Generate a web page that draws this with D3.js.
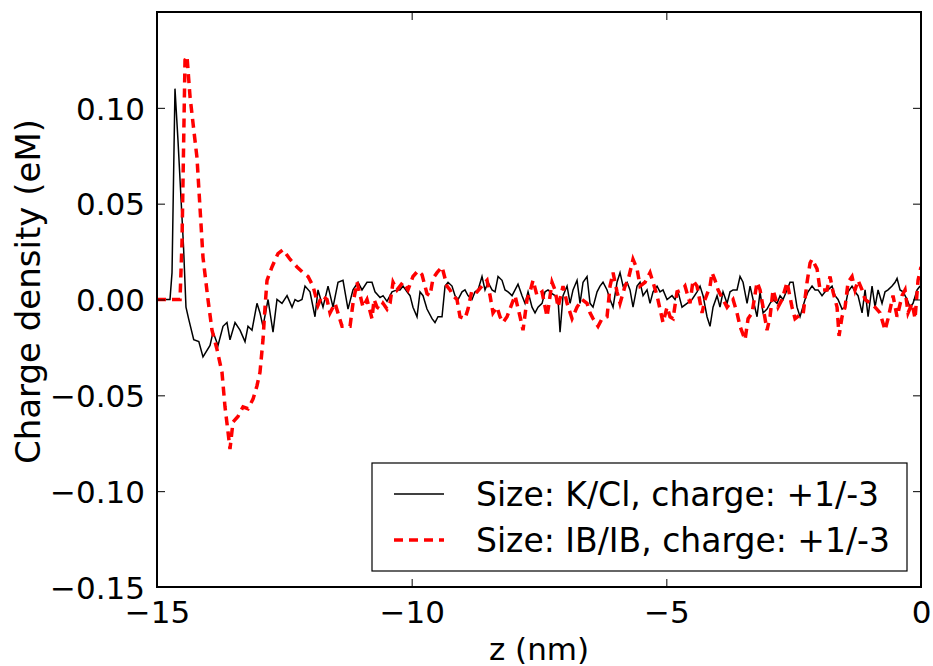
<!DOCTYPE html>
<html>
<head>
<meta charset="utf-8">
<script src="https://cdn.jsdelivr.net/npm/d3@7"></script>
<style>
  body { margin: 0; background: #fff; }
  svg text { font-family: "DejaVu Sans", sans-serif; fill: #000; }
</style>
</head>
<body>
<svg width="933" height="666"></svg>
<script>
// values
var kclZ = [-15.0, -14.745, -14.705, -14.647, -14.588, -14.537, -14.48, -14.431, -14.38, -14.279, -14.179, -14.097,
  -13.959, -13.9, -13.802, -13.704, -13.626, -13.567, -13.468, -13.37, -13.272, -13.213, -13.135, -13.037, -12.978,
  -12.919, -12.82, -12.722, -12.644, -12.546, -12.447, -12.349, -12.29, -12.231, -12.153, -12.094, -11.996, -11.898,
  -11.839, -11.741, -11.642, -11.544, -11.446, -11.348, -11.25, -11.152, -11.053, -10.975, -10.877, -10.779, -10.72,
  -10.621, -10.562, -10.484, -10.386, -10.288, -10.229, -10.17, -10.091, -10.032, -9.974, -9.895, -9.836, -9.777,
  -9.699, -9.6, -9.542, -9.483, -9.404, -9.345, -9.286, -9.208, -9.149, -9.09, -9.011, -8.953, -8.894, -8.815, -8.756,
  -8.697, -8.619, -8.56, -8.501, -8.422, -8.363, -8.304, -8.226, -8.167, -8.108, -8.029, -7.97, -7.912, -7.833, -7.774,
  -7.715, -7.637, -7.578, -7.519, -7.44, -7.381, -7.323, -7.244, -7.185, -7.126, -7.087, -7.028, -6.949, -6.89, -6.832,
  -6.753, -6.694, -6.635, -6.557, -6.498, -6.439, -6.36, -6.302, -6.243, -6.164, -6.105, -6.046, -5.968, -5.909, -5.85,
  -5.771, -5.713, -5.654, -5.575, -5.516, -5.457, -5.379, -5.32, -5.261, -5.182, -5.124, -5.065, -4.986, -4.888, -4.829,
  -4.77, -4.692, -4.593, -4.495, -4.397, -4.338, -4.279, -4.201, -4.142, -4.083, -4.004, -3.946, -3.887, -3.808, -3.749,
  -3.69, -3.612, -3.553, -3.494, -3.415, -3.356, -3.297, -3.219, -3.16, -3.101, -3.023, -2.964, -2.905, -2.826, -2.767,
  -2.709, -2.63, -2.571, -2.512, -2.434, -2.375, -2.277, -2.218, -2.139, -2.08, -2.021, -1.943, -1.884, -1.825, -1.746,
  -1.687, -1.629, -1.55, -1.491, -1.432, -1.354, -1.295, -1.236, -1.157, -1.098, -1.039, -0.961, -0.902, -0.843, -0.765,
  -0.706, -0.647, -0.568, -0.509, -0.47, -0.411, -0.352, -0.273, -0.215, -0.156, -0.077, -0.018];
var kclCharge = [0, 0, 0.014, 0.110, 0.083, 0.057, 0.028, -0.004, -0.010, -0.021, -0.022, -0.030,
  -0.024, -0.017, -0.024, -0.014, -0.012, -0.021, -0.012, -0.016, -0.022, -0.014, -0.016, -0.002, -0.007,
  -0.014, 0.0, -0.017, 0.0, -0.002, 0.002, -0.004, 0.0, -0.001, 0.0, 0.007, 0.004, -0.009,
  0.005, -0.004, 0.007, -0.004, 0.009, 0.010, -0.005, 0.005, 0.009, 0.005, 0.009, 0.009, 0.004,
  0.001, 0.002, -0.001, 0.004, 0.005, 0.005, 0.007, 0.004, 0.002, -0.004, -0.009, 0.004, 0.002,
  -0.005, -0.010, -0.012, -0.009, -0.009, 0.007, 0.009, 0.007, 0.002, 0.0, 0.004, 0.005, 0.002, 0.0, 0.004,
  0.005, 0.012, 0.005, 0.009, 0.005, 0.004, 0.012, 0.010, 0.005, 0.004, 0.002, 0.005, 0.008, 0.002, -0.002,
  0.004, -0.004, -0.007, -0.004, -0.002, 0.004, 0.005, 0.003, 0.002, 0.0, -0.017, 0.002, 0.007, -0.002, 0.005,
  0.010, -0.002, 0.009, 0.012, -0.002, -0.004, 0.004, 0.007, 0.009, 0.005, 0.0, -0.004, 0.009, 0.014, 0.007,
  0.009, 0.005, -0.004, 0.007, 0.009, 0.002, 0.005, -0.002, 0.004, 0.007, 0.004, 0.005, 0.0, 0.002, 0.0,
  0.004, -0.004, -0.002, 0.0, 0.004, 0.007, 0.002, -0.009, -0.014, -0.004, 0.002, -0.004, 0.004, -0.002, 0.004,
  0.005, 0.005, 0.012, 0.009, -0.002, 0.007, 0.0, -0.009, 0.004, -0.007, -0.005, -0.002, 0.0, -0.002, 0.002,
  0.0, 0.005, 0.009, 0.009, -0.004, -0.009, 0.0, 0.004, 0.007, 0.005, 0.005, 0.002, 0.004, 0.005, 0.007,
  0.002, 0.0, -0.005, -0.004, 0.004, 0.007, 0.004, 0.002, -0.007, 0.005, -0.009, 0.007, -0.004, 0.005, -0.002,
  0.004, 0.005, 0.007, 0.009, 0.011, 0.005, 0.004, 0.0, -0.004, -0.002, 0.005, 0.007];

var ibZ = [-15.0, -14.548, -14.509, -14.45, -14.411, -14.352, -14.293, -14.215, -14.156, -14.097, -13.999, -13.92,
  -13.822, -13.724, -13.665, -13.606, -13.567, -13.508, -13.41, -13.311, -13.213, -13.115, -13.037, -12.978, -12.919,
  -12.879, -12.84, -12.742, -12.624, -12.526, -12.389, -12.251, -12.133, -12.035, -11.937, -11.839, -11.76, -11.662,
  -11.603, -11.505, -11.367, -11.25, -11.21, -11.152, -11.073, -10.955, -10.877, -10.779, -10.739, -10.68, -10.621,
  -10.562, -10.484, -10.425, -10.366, -10.288, -10.229, -10.17, -10.072, -9.974, -9.875, -9.797, -9.699, -9.64, -9.581,
  -9.502, -9.404, -9.306, -9.247, -9.188, -9.11, -9.051, -8.953, -8.894, -8.815, -8.717, -8.619, -8.52, -8.461, -8.403,
  -8.324, -8.265, -8.206, -8.128, -8.029, -7.97, -7.872, -7.814, -7.735, -7.676, -7.617, -7.539, -7.44, -7.342, -7.244,
  -7.185, -7.126, -7.028, -6.949, -6.851, -6.753, -6.655, -6.557, -6.498, -6.439, -6.341, -6.262, -6.164, -6.105,
  -6.046, -5.968, -5.909, -5.811, -5.752, -5.654, -5.575, -5.516, -5.418, -5.32, -5.261, -5.182, -5.124, -5.065,
  -4.986, -4.927, -4.868, -4.79, -4.692, -4.633, -4.535, -4.476, -4.397, -4.299, -4.24, -4.142, -4.103, -4.043, -3.985,
  -3.887, -3.808, -3.749, -3.69, -3.612, -3.553, -3.454, -3.395, -3.317, -3.219, -3.16, -3.101, -3.023, -2.964, -2.905,
  -2.807, -2.728, -2.63, -2.532, -2.473, -2.375, -2.316, -2.237, -2.178, -2.139, -2.041, -1.982, -1.845, -1.786, -1.727,
  -1.648, -1.609, -1.55, -1.491, -1.432, -1.354, -1.295, -1.236, -1.157, -1.098, -1.0, -0.902, -0.804, -0.706, -0.647,
  -0.549, -0.47, -0.372, -0.313, -0.254, -0.175, -0.117, -0.058, 0.0];
var ibCharge = [0, 0, 0.030, 0.125, 0.127, 0.106, 0.092, 0.074, 0.048, 0.022, 0.0, -0.016,
  -0.026, -0.038, -0.056, -0.069, -0.078, -0.064, -0.061, -0.056, -0.057, -0.052, -0.045, -0.038, -0.021,
  -0.004, 0.010, 0.017, 0.024, 0.026, 0.021, 0.017, 0.014, 0.012, 0.007, -0.003, 0.002, 0.0,
  -0.007, -0.002, -0.014, -0.014, -0.014, -0.002, 0.009, -0.004, 0.0, -0.010, 0.0, -0.004, -0.005,
  -0.002, -0.005, -0.002, 0.009, 0.005, 0.007, 0.009, 0.005, 0.012, 0.015, 0.013, 0.003, 0.002, 0.011,
  0.014, 0.017, 0.007, 0.005, 0.002, 0.0, -0.009, -0.010, -0.005, 0.005, 0.004, 0.007, 0.010, 0.002, -0.007,
  -0.004, -0.009, -0.012, -0.009, -0.002, 0.002, -0.009, -0.016, 0.0, 0.004, 0.010, 0.002, 0.004, -0.009, 0.009,
  0.005, -0.004, 0.007, -0.002, -0.010, -0.004, 0.0, -0.002, -0.007, -0.010, -0.014, -0.010, -0.009, 0.007,
  0.014, 0.004, -0.002, 0.007, 0.010, 0.021, 0.016, 0.007, 0.009, 0.014, 0.009, 0.002, -0.005, -0.012,
  -0.004, -0.009, -0.010, 0.004, 0.005, 0.007, -0.002, 0.010, 0.007, -0.007, 0.0, 0.007, 0.014, 0.010, 0.005,
  0.0, -0.004, -0.002, 0.0, -0.007, -0.014, -0.021, -0.010, -0.007, 0.009, 0.005, -0.004, -0.016, -0.009, 0.005,
  -0.004, 0.0, 0.009, -0.004, -0.010, -0.008, -0.008, 0.009, 0.019, 0.021, 0.016, 0.005, 0.005, 0.012, 0.004,
  -0.004, -0.019, -0.009, -0.004, 0.009, 0.012, 0.005, 0.010, 0.005, 0.0, -0.002, -0.004, -0.007, -0.016, -0.010,
  0.002, -0.009, 0.002, 0.005, -0.007, -0.002, -0.010, 0.010, 0.017];

var xTicks = [-15, -10, -5, 0];
var yTicks = [-0.15, -0.10, -0.05, 0.00, 0.05, 0.10];
var seriesNames = ["Size: K/Cl, charge: +1/-3", "Size: IB/IB, charge: +1/-3"];

var margin = { top: 12, right: 12, bottom: 79, left: 157 };
var width = 933 - margin.left - margin.right;
var height = 666 - margin.top - margin.bottom;

var svg = d3.select('svg');
var g = svg.append('g').attr('transform', 'translate(' + margin.left + ',' + margin.top + ')');

var x = d3.scaleLinear().domain([-15, 0]).range([0, width]);
var y = d3.scaleLinear().domain([-0.15, 0.15]).range([height, 0]);

g.append('clipPath').attr('id', 'plotclip')
  .append('rect').attr('width', width).attr('height', height);

var toPoints = function(zs, vs) {
  return zs.map(function(z, i) { return [z, vs[i]]; });
};

var line = d3.line()
  .x(function(d) { return x(d[0]); })
  .y(function(d) { return y(d[1]); });

var plot = g.append('g').attr('clip-path', 'url(#plotclip)');

plot.append('path')
  .datum(toPoints(kclZ, kclCharge))
  .attr('d', line)
  .attr('fill', 'none')
  .attr('stroke', '#000')
  .attr('stroke-width', 1.5);

plot.append('path')
  .datum(toPoints(ibZ, ibCharge))
  .attr('d', line)
  .attr('fill', 'none')
  .attr('stroke', '#ff0000')
  .attr('stroke-width', 3.5)
  .attr('stroke-dasharray', '9,6');

// axes, matplotlib classic style: inward ticks on all four sides
var fontSize = 31;
var xAxis = d3.axisBottom(x).tickValues(xTicks).tickSize(-8).tickPadding(14)
  .tickFormat(d3.format('d'));
var yAxis = d3.axisLeft(y).tickValues(yTicks).tickSize(-8).tickPadding(12)
  .tickFormat(d3.format('.2f'));

var gx = g.append('g').attr('transform', 'translate(0,' + height + ')').call(xAxis);
var gy = g.append('g').call(yAxis);
g.append('g').call(d3.axisTop(x).tickValues(xTicks).tickSize(-8).tickFormat(''));
g.append('g').attr('transform', 'translate(' + width + ',0)')
  .call(d3.axisRight(y).tickValues(yTicks).tickSize(-8).tickFormat(''));

g.selectAll('.domain').remove();
g.selectAll('.tick line').attr('stroke', '#000').attr('stroke-width', 1);
gx.selectAll('.tick text').attr('font-size', fontSize).attr('dy', '0.71em');
gy.selectAll('.tick text').attr('font-size', fontSize).attr('dy', '0.36em');
g.selectAll('.tick text').attr('font-family', '"DejaVu Sans", sans-serif').attr('fill', '#000');

g.append('rect')
  .attr('width', width).attr('height', height)
  .attr('fill', 'none').attr('stroke', '#000').attr('stroke-width', 2);

svg.append('text')
  .attr('x', margin.left + width / 2).attr('y', 660)
  .attr('text-anchor', 'middle').attr('font-size', fontSize)
  .text('z (nm)');

svg.append('text')
  .attr('transform', 'translate(40,' + (margin.top + height / 2 - 8) + ') rotate(-90)')
  .attr('text-anchor', 'middle').attr('font-size', 34)
  .text('Charge density (eM)');

// legend
var legend = g.append('g').attr('transform', 'translate(' + (372 - margin.left) + ',' + (463 - margin.top) + ')');
legend.append('rect')
  .attr('width', 535).attr('height', 108)
  .attr('fill', '#fff').attr('stroke', '#000').attr('stroke-width', 1.2);

var legendStyles = [
  { stroke: '#000', width: 1.5, dash: null },
  { stroke: '#ff0000', width: 3.5, dash: '9,6' }
];
seriesNames.forEach(function(name, i) {
  var row = legend.append('g').attr('transform', 'translate(0,' + (31 + i * 46) + ')');
  row.append('line')
    .attr('x1', 22).attr('x2', 72)
    .attr('stroke', legendStyles[i].stroke)
    .attr('stroke-width', legendStyles[i].width)
    .attr('stroke-dasharray', legendStyles[i].dash);
  row.append('text')
    .attr('x', 104).attr('dy', '0.36em')
    .attr('font-size', 33)
    .text(name);
});
</script>
</body>
</html>
